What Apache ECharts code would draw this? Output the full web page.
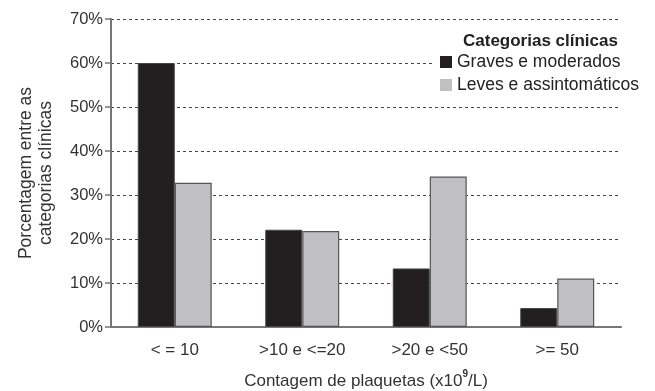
<!DOCTYPE html>
<html><head><meta charset="utf-8">
<script src="https://cdn.jsdelivr.net/npm/echarts@6/dist/echarts.min.js"></script>
<style>html,body{margin:0;padding:0;background:#fff}#c{width:655px;height:391px}</style>
</head><body><div id="c"></div>
<script>
var categories = ['< = 10', '>10 e <=20', '>20 e <50', '>= 50'];
var graves = [60, 22.1, 13.3, 4.3];
var leves = [32.8, 21.8, 34.2, 11.0];
var yTicks = [0, 10, 20, 30, 40, 50, 60, 70];
var seriesNames = ['Graves e moderados', 'Leves e assintomáticos'];

var FONT = 'Liberation Sans, Arial, sans-serif';
var chart = echarts.init(document.getElementById('c'));
chart.setOption({
  animation: false,
  textStyle: {fontFamily: FONT},
  title: {
    text: 'Categorias clínicas', left: 458, top: 28, z: 20,
    textStyle: {fontFamily: FONT, fontSize: 17, fontWeight: 'bold', color: '#222'}
  },
  legend: {
    orient: 'vertical', left: 434, top: 26,
    padding: [27, 6, 6, 6],
    backgroundColor: '#fff',
    itemWidth: 12, itemHeight: 12, itemGap: 5,
    icon: 'rect',
    itemStyle: {borderWidth: 0},
    textStyle: {fontFamily: FONT, fontSize: 17.5, color: '#222'},
    data: seriesNames
  },
  grid: {left: 111, right: 34, top: 19, bottom: 64, outerBoundsMode: 'none', containLabel: false},
  xAxis: {
    type: 'category', data: categories,
    axisLine: {lineStyle: {color: '#777', width: 2}},
    axisTick: {show: false},
    axisLabel: {fontFamily: FONT, fontSize: 17, color: '#333', margin: 15},
    name: '{a|Contagem de plaquetas (x10}{s|9}{a|/L)}',
    nameLocation: 'middle', nameGap: 42,
    nameTextStyle: {
      rich: {
        a: {fontFamily: FONT, fontSize: 17, color: '#333'},
        s: {fontFamily: FONT, fontSize: 10, fontWeight: 'bold', color: '#333', padding: [0, 0, 14, 0]}
      }
    }
  },
  yAxis: {
    type: 'value', min: yTicks[0], max: yTicks[yTicks.length - 1], interval: 10,
    axisLine: {show: true, lineStyle: {color: '#777', width: 2}},
    axisTick: {show: true, length: 6, lineStyle: {color: '#777', width: 1.5}},
    axisLabel: {fontFamily: FONT, fontSize: 16.5, color: '#333', margin: 8, formatter: '{value}%'},
    splitLine: {lineStyle: {type: [3, 3], color: '#444', width: 1}},
    name: 'Porcentagem entre as\ncategorias clínicas',
    nameLocation: 'middle', nameRotate: 90, nameGap: 55,
    nameTextStyle: {fontFamily: FONT, fontSize: 17.5, color: '#333', lineHeight: 20}
  },
  series: [
    {name: seriesNames[0], type: 'bar', data: graves, barGap: '0%', barCategoryGap: '42%',
     itemStyle: {color: '#231f20', borderColor: '#444', borderWidth: 1}},
    {name: seriesNames[1], type: 'bar', data: leves,
     itemStyle: {color: '#c0c0c2', borderColor: '#555', borderWidth: 1.2}}
  ]
});
</script></body></html>
